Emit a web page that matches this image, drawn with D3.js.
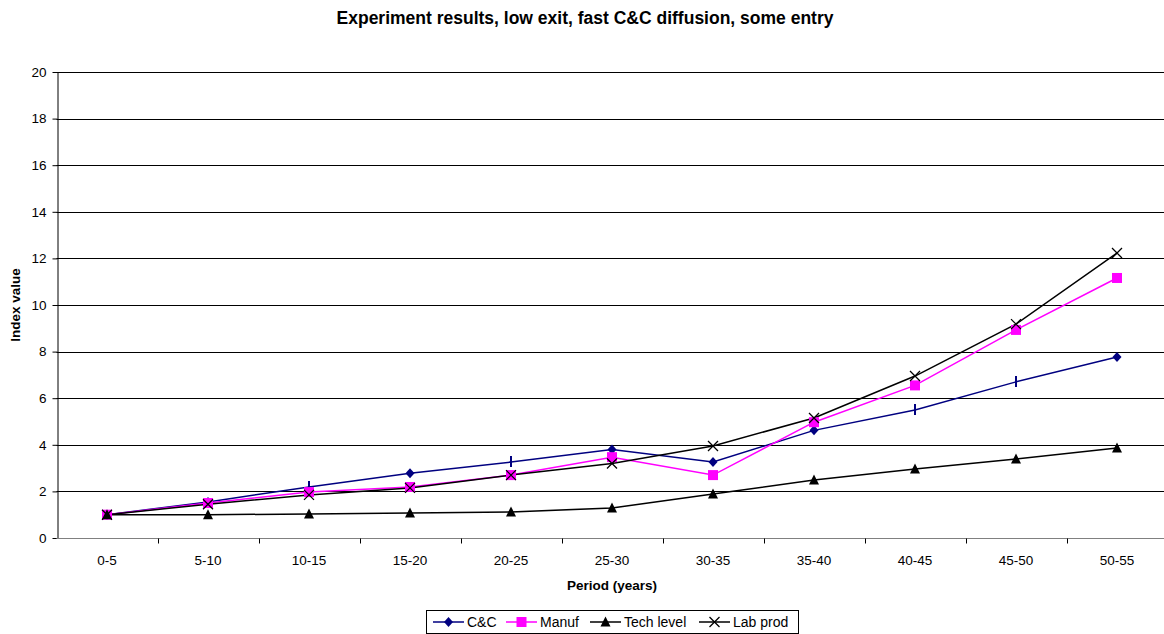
<!DOCTYPE html>
<html>
<head>
<meta charset="utf-8">
<script src="https://cdn.jsdelivr.net/npm/d3@7"></script>
<style>
  body { margin: 0; background: #fff; }
  svg { font-family: "Liberation Sans", Arial, sans-serif; }
</style>
</head>
<body>
<div id="chart"></div>
<script>
let periods = ["0-5", "5-10", "10-15", "15-20", "20-25", "25-30", "30-35", "35-40", "40-45", "45-50", "50-55"];
let ccVals   = [1.0, 1.55, 2.19, 2.78, 3.26, 3.8, 3.26, 4.62, 5.49, 6.7, 7.77];
let manufVals = [1.0, 1.5, 1.97, 2.19, 2.7, 3.47, 2.7, 4.97, 6.55, 8.93, 11.16];
let techVals = [1.0, 1.0, 1.03, 1.07, 1.12, 1.29, 1.89, 2.49, 2.96, 3.39, 3.86];
let labVals  = [1.0, 1.45, 1.85, 2.15, 2.7, 3.2, 3.95, 5.15, 6.95, 9.18, 12.23];
let yTicks = [0, 2, 4, 6, 8, 10, 12, 14, 16, 18, 20];

let series = [
    {name: "C&C", values: ccVals, color: "#000080", marker: "diamond"},
    {name: "Manuf", values: manufVals, color: "#ff00ff", marker: "square"},
    {name: "Tech level", values: techVals, color: "#000000", marker: "triangle"},
    {name: "Lab prod", values: labVals, color: "#000000", marker: "cross"}
];
// some C&C points show only as a small vertical tick in the original
let ccTickOnly = [2, 4, 8, 9];

let width = 1164, height = 634;
let margin = {top: 72, left: 56.5, bottom: 96};

let svg = d3.select("#chart").append("svg")
    .attr("width", width)
    .attr("height", height);

let x = d3.scaleBand().domain(periods).range([margin.left, margin.left + 101 * periods.length]);
let y = d3.scaleLinear().domain([0, 20]).range([height - margin.bottom, margin.top]);

// gridlines
svg.append("g").selectAll("line")
    .data(yTicks.filter(d => d > 0))
    .enter().append("line")
    .attr("x1", margin.left).attr("x2", width)
    .attr("y1", d => Math.round(y(d)) + 0.5).attr("y2", d => Math.round(y(d)) + 0.5)
    .attr("stroke", "#000").attr("stroke-width", 1);

// y axis
let yAxis = svg.append("g")
    .attr("transform", `translate(${Math.round(margin.left) + 0.5},0)`)
    .call(d3.axisLeft(y).tickValues(yTicks).tickSize(5).tickSizeOuter(0));
yAxis.select(".domain").attr("stroke", "#000");
yAxis.selectAll(".tick line").attr("stroke", "#000");
yAxis.selectAll(".tick text").attr("font-size", 13.5).attr("fill", "#000").attr("x", -11);

// x axis
let xAxisY = Math.round(y(0)) + 0.5;
let xg = svg.append("g");
xg.append("line")
    .attr("x1", margin.left).attr("x2", width)
    .attr("y1", xAxisY).attr("y2", xAxisY)
    .attr("stroke", "#808080");
xg.selectAll(".xtick")
    .data(periods.map((p, i) => i + 1))
    .enter().append("line")
    .attr("x1", i => Math.round(margin.left + i * x.step()) + 0.5)
    .attr("x2", i => Math.round(margin.left + i * x.step()) + 0.5)
    .attr("y1", xAxisY).attr("y2", xAxisY + 5)
    .attr("stroke", "#000");
xg.selectAll(".xlab")
    .data(periods)
    .enter().append("text")
    .attr("x", d => x(d) + x.bandwidth() / 2)
    .attr("y", 565)
    .attr("text-anchor", "middle")
    .attr("font-size", 13.5)
    .text(d => d);

// lines
let line = d3.line()
    .x((d, i) => x(periods[i]) + x.bandwidth() / 2)
    .y(d => y(d));

series.forEach(s => {
    svg.append("path")
        .datum(s.values)
        .attr("fill", "none")
        .attr("stroke", s.color)
        .attr("stroke-width", 1.5)
        .attr("d", line);
});

function drawMarker(g, type, color, cx, cy) {
    if (type == "diamond") {
        g.append("path").attr("d", `M${cx},${cy-5}L${cx+4.5},${cy}L${cx},${cy+5}L${cx-4.5},${cy}Z`).attr("fill", color);
    } else if (type == "square") {
        g.append("rect").attr("x", cx - 5).attr("y", cy - 5).attr("width", 10).attr("height", 10).attr("fill", color);
    } else if (type == "triangle") {
        g.append("path").attr("d", `M${cx},${cy-5.5}L${cx+5},${cy+4.5}L${cx-5},${cy+4.5}Z`).attr("fill", color);
    } else if (type == "cross") {
        g.append("path").attr("d", `M${cx-5},${cy-5}L${cx+5},${cy+5}M${cx+5},${cy-5}L${cx-5},${cy+5}`)
            .attr("stroke", color).attr("stroke-width", 1.3);
    } else if (type == "tick") {
        g.append("line").attr("x1", cx).attr("x2", cx).attr("y1", cy - 6).attr("y2", cy + 5)
            .attr("stroke", color).attr("stroke-width", 2);
    }
}

series.forEach(s => {
    let g = svg.append("g");
    s.values.forEach((v, i) => {
        let type = s.marker;
        if (s.name == "C&C" && ccTickOnly.includes(i)) type = "tick";
        drawMarker(g, type, s.color, x(periods[i]) + x.bandwidth() / 2, y(v));
    });
});

// titles
svg.append("text")
    .attr("x", 585).attr("y", 24)
    .attr("text-anchor", "middle")
    .attr("font-size", 17.5).attr("font-weight", "bold")
    .text("Experiment results, low exit, fast C&C diffusion, some entry");

svg.append("text")
    .attr("transform", `translate(20,${(y(0) + y(20)) / 2}) rotate(-90)`)
    .attr("text-anchor", "middle")
    .attr("font-size", 13.5).attr("font-weight", "bold")
    .text("Index value");

svg.append("text")
    .attr("x", 612).attr("y", 590)
    .attr("text-anchor", "middle")
    .attr("font-size", 13.5).attr("font-weight", "bold")
    .text("Period (years)");

// legend
let legend = svg.append("g").attr("transform", "translate(426,610)");
legend.append("rect")
    .attr("x", 0.5).attr("y", 0.5).attr("width", 372).attr("height", 23)
    .attr("fill", "#fff").attr("stroke", "#000");
let legX = [7, 80, 164, 273];
series.forEach((s, i) => {
    let lg = legend.append("g").attr("transform", `translate(${legX[i]},12)`);
    lg.append("line").attr("x1", 0).attr("x2", 31).attr("y1", 0).attr("y2", 0)
        .attr("stroke", s.color).attr("stroke-width", 1.5);
    drawMarker(lg, s.marker, s.color, 15.5, 0);
    lg.append("text").attr("x", 34).attr("y", 5).attr("font-size", 14).text(s.name);
});
</script>
</body>
</html>
